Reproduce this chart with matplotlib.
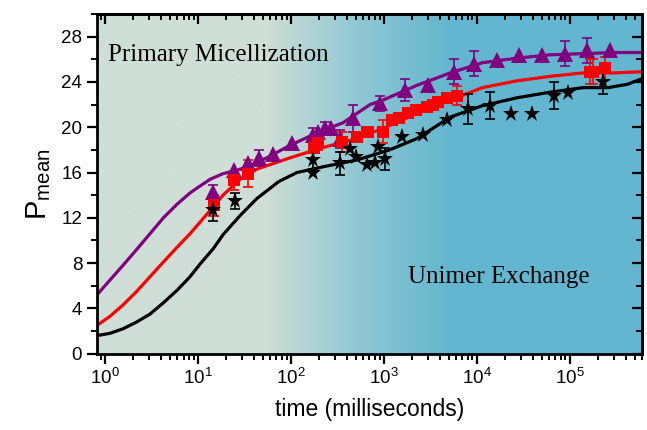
import numpy as np
import matplotlib
matplotlib.use("Agg")
import matplotlib.pyplot as plt
from matplotlib.colors import LinearSegmentedColormap
from matplotlib.ticker import LogLocator, MultipleLocator, NullFormatter

plt.rcParams['font.family'] = ['Liberation Sans', 'DejaVu Sans']
plt.rcParams['mathtext.fontset'] = 'custom'
plt.rcParams['mathtext.rm'] = 'Liberation Sans'
plt.rcParams['mathtext.it'] = 'Liberation Sans'

# ---- model curves ----
purple_t = [0.82, 1.13, 1.56, 2.19, 3.05, 4.25, 5.96, 8.22, 10.5, 13.5, 18.6, 26.1, 34, 55,
            98, 190, 365, 710, 980, 2270, 5200, 11500, 27000, 62000, 140000, 300000, 600000]
purple_curve = [5.2, 6.5, 7.8, 9.2, 10.6, 12.0, 13.2, 14.2, 14.8, 15.4, 15.9, 16.2, 16.5,
                17.3, 18.4, 19.5, 20.4, 22.0, 22.4, 23.7, 24.8, 25.7, 26.1, 26.4, 26.5,
                26.6, 26.6]
red_t = [0.82, 1.13, 1.56, 2.19, 3.05, 4.25, 5.96, 8.22, 10.5, 14.7, 18.6, 28.4, 43, 98,
         220, 510, 980, 2270, 5200, 11500, 27000, 62000, 140000, 300000, 600000]
red_curve = [2.5, 3.3, 4.3, 5.5, 6.8, 8.1, 9.4, 10.6, 11.6, 13.0, 14.0, 15.4, 16.3,
             17.3, 18.2, 19.0, 19.9, 21.2, 22.4, 23.5, 24.1, 24.5, 24.8, 24.8, 24.9]
black_t = [0.82, 1.13, 1.56, 2.19, 3.05, 4.25, 5.96, 8.22, 10.5, 14.7, 18.6, 28.4, 43, 74,
           116, 220, 510, 1150, 2270, 5200, 11500, 27000, 62000, 140000, 260000, 420000,
           600000]
black_curve = [1.6, 1.8, 2.2, 2.8, 3.5, 4.5, 5.6, 6.8, 7.9, 9.3, 10.5, 12.2, 13.7, 15.2,
               16.0, 16.5, 17.1, 18.0, 19.0, 20.9, 21.9, 22.6, 23.1, 23.5, 23.5, 23.8, 24.3]

# ---- measured points ----
tri_t = [14.5, 24.5, 34.7, 45.5, 64.5, 103, 173, 196, 234, 270, 337, 465, 910, 1700,
         3000, 5700, 9400, 16600, 28500, 50600, 89000, 155000, 273000]
tri_y = [14.3, 16.2, 16.8, 17.3, 17.6, 18.6, 19.3, 19.6, 19.9, 19.9, 19.0, 20.8, 22.1, 23.3,
         23.7, 24.9, 25.6, 25.9, 26.4, 26.4, 26.5, 26.8, 26.8]
tri_err = [0.6, 0, 0, 0.7, 0, 0, 0.6, 0, 0.6, 0, 0.8, 1.2, 0.7, 1.0,
           0, 1.1, 1.1, 0, 0, 0, 1.1, 1.1, 0]

sq_t = [14.8, 24.5, 34.7, 177, 196, 355, 510, 660, 680, 980, 1220, 1450, 1800, 2200,
        2900, 3400, 3800, 4800, 6200, 165000, 180000, 242000]
sq_y = [13.1, 15.3, 15.9, 18.2, 18.6, 18.7, 19.1, 19.6, 19.6, 19.6, 20.6, 20.8, 21.3, 21.5,
        21.8, 22.0, 22.2, 22.6, 22.8, 24.9, 24.9, 25.2]
sq_err = [0.9, 0.8, 1.2, 0, 0.6, 0.9, 0, 0, 0, 1.0, 0, 0, 0, 0,
          0, 0, 0, 0, 0.8, 1.1, 1.1, 1.0]

star_t = [14.5, 25, 172, 172, 337, 435, 500, 660, 800, 870, 1030, 1570, 2660, 4800,
          8100, 14000, 23500, 39000, 67000, 95000, 230000]
star_y = [12.7, 13.5, 17.1, 16.0, 16.8, 18.1, 17.4, 16.7, 16.8, 18.3, 17.2, 19.1, 19.3, 20.6,
          21.6, 21.9, 21.2, 21.2, 22.8, 23.0, 24.0]
star_err = [1.0, 0.7, 0.8, 0, 1.0, 0, 0, 0, 0, 0, 1.0, 0, 0, 0,
            1.3, 1.2, 0, 0, 1.2, 0, 1.1]

xlim = (0.815, 6.0e5)
ylim = (0, 30)

fig = plt.figure(figsize=(6.47, 4.30), dpi=100)
ax = fig.add_axes([0.1495, 0.1774, 0.8428, 0.79])

# background gradient
left_c = np.array([207, 222, 214]) / 255
right_c = np.array([99, 182, 207]) / 255
cmap = LinearSegmentedColormap.from_list('bg', [(0, left_c), (0.31, left_c),
                                                (0.48, (left_c + right_c) / 2 + np.array([-0.04, -0.01, 0.0])),
                                                (0.65, right_c), (1, right_c)])
grad = np.linspace(0, 1, 512).reshape(1, -1)
ax.imshow(grad, cmap=cmap, aspect='auto', extent=[0, 1, 0, 1],
          transform=ax.transAxes, zorder=0, interpolation='bilinear')

ax.set_xscale('log')
ax.set_xlim(*xlim)
ax.set_ylim(*ylim)

ax.plot(purple_t, purple_curve, color='#800080', lw=2.3, zorder=3, solid_joinstyle='round')
ax.plot(red_t, red_curve, color='#ff0000', lw=2.3, zorder=3, solid_joinstyle='round')
ax.plot(black_t, black_curve, color='black', lw=2.3, zorder=3, solid_joinstyle='round')

def pts(t, y, e, color, marker, ms):
    t = np.array(t); y = np.array(y); e = np.array(e)
    m = e > 0
    ax.errorbar(t[m], y[m], yerr=e[m], fmt='none', ecolor=color, elinewidth=1.2,
                capsize=3.5, capthick=1.2, zorder=4)
    ax.plot(t, y, linestyle='none', marker=marker, color=color, ms=ms, zorder=5,
            markeredgewidth=0)

pts(tri_t, tri_y, tri_err, '#800080', '^', 11)
pts(sq_t, sq_y, sq_err, '#ff0000', 's', 8)
pts(star_t, star_y, star_err, 'black', '*', 12.5)

# ticks
ax.xaxis.set_major_locator(LogLocator(base=10, numticks=20))
ax.xaxis.set_minor_locator(LogLocator(base=10, subs=np.arange(2, 10), numticks=20))
ax.xaxis.set_minor_formatter(NullFormatter())
ax.yaxis.set_major_locator(MultipleLocator(4))
ax.yaxis.set_minor_locator(MultipleLocator(2))

for side in ['left', 'right', 'top', 'bottom']:
    ax.spines[side].set_linewidth(2)
    ax.spines[side].set_zorder(6)

ax.tick_params(axis='both', which='major', labelsize=13.5, width=1.6, length=7)
ax.tick_params(axis='both', which='minor', width=1.4, length=4.5)
ax.tick_params(axis='x', which='both', direction='out', top=False, bottom=True)
ax.tick_params(axis='y', which='both', direction='out', left=True, right=False)
# inward ticks on top and right
ax2 = ax.secondary_xaxis('top')
ax2.tick_params(axis='x', which='major', direction='in', length=7, width=1.6, labeltop=False)
ax2.tick_params(axis='x', which='minor', direction='in', length=4.5, width=1.4)
ax2.xaxis.set_major_locator(LogLocator(base=10, numticks=20))
ax2.xaxis.set_minor_locator(LogLocator(base=10, subs=np.arange(2, 10), numticks=20))
ax2.xaxis.set_major_formatter(NullFormatter())
ax2.xaxis.set_minor_formatter(NullFormatter())
ax3 = ax.secondary_yaxis('right')
ax3.yaxis.set_major_locator(MultipleLocator(4))
ax3.yaxis.set_minor_locator(MultipleLocator(2))
ax3.tick_params(axis='y', which='major', direction='in', length=7, width=1.6, labelright=False)
ax3.tick_params(axis='y', which='minor', direction='in', length=4.5, width=1.4)
ax3.yaxis.set_major_formatter(NullFormatter())
for s in ax2.spines.values():
    s.set_linewidth(2)
for s in ax3.spines.values():
    s.set_linewidth(2)

ax.set_xlabel('time (milliseconds)', fontsize=16.5, labelpad=7)
ax.set_ylabel(r'P$_{\mathrm{mean}}$', fontsize=21, labelpad=6)

ax.text(0.021, 0.879, 'Primary Micellization', transform=ax.transAxes,
        family=['Liberation Serif', 'DejaVu Serif'], fontsize=18, va='center', ha='left', zorder=7)
ax.text(0.571, 0.226, 'Unimer Exchange', transform=ax.transAxes,
        family=['Liberation Serif', 'DejaVu Serif'], fontsize=18, va='center', ha='left', zorder=7)

fig.savefig('out.png', dpi=100)
